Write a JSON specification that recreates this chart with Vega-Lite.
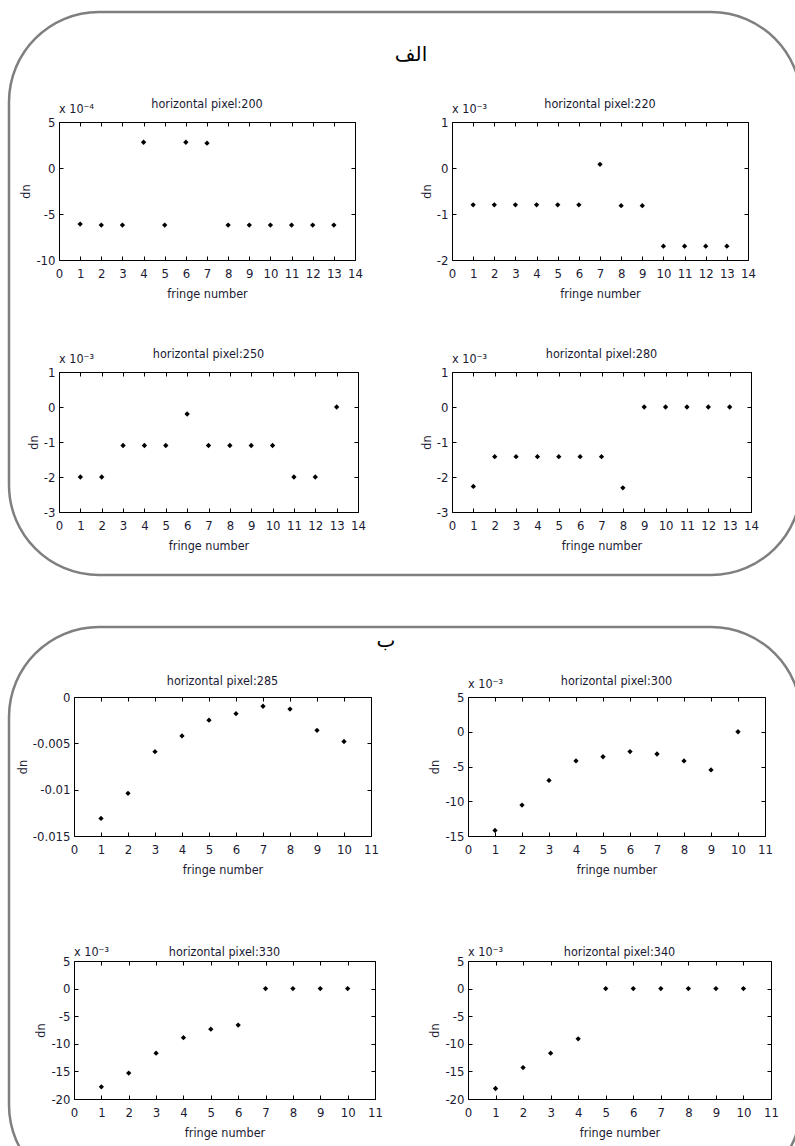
{
  "$schema": "https://vega.github.io/schema/vega-lite/v6.json",
  "padding": {"left": 7, "top": 10, "right": 0, "bottom": 0},
  "background": "white",
  "datasets": {
    "dn": [
      {"panel": 200, "fringe": 1, "dn": -0.00061}, {"panel": 200, "fringe": 2, "dn": -0.00062}, {"panel": 200, "fringe": 3, "dn": -0.00062}, {"panel": 200, "fringe": 4, "dn": 0.00028}, {"panel": 200, "fringe": 5, "dn": -0.00062}, {"panel": 200, "fringe": 6, "dn": 0.00028}, {"panel": 200, "fringe": 7, "dn": 0.00027}, {"panel": 200, "fringe": 8, "dn": -0.00062}, {"panel": 200, "fringe": 9, "dn": -0.00062}, {"panel": 200, "fringe": 10, "dn": -0.00062}, {"panel": 200, "fringe": 11, "dn": -0.00062}, {"panel": 200, "fringe": 12, "dn": -0.00062}, {"panel": 200, "fringe": 13, "dn": -0.00062},
      {"panel": 220, "fringe": 1, "dn": -0.0008}, {"panel": 220, "fringe": 2, "dn": -0.0008}, {"panel": 220, "fringe": 3, "dn": -0.0008}, {"panel": 220, "fringe": 4, "dn": -0.0008}, {"panel": 220, "fringe": 5, "dn": -0.0008}, {"panel": 220, "fringe": 6, "dn": -0.0008}, {"panel": 220, "fringe": 7, "dn": 0.00008}, {"panel": 220, "fringe": 8, "dn": -0.00082}, {"panel": 220, "fringe": 9, "dn": -0.00082}, {"panel": 220, "fringe": 10, "dn": -0.0017}, {"panel": 220, "fringe": 11, "dn": -0.0017}, {"panel": 220, "fringe": 12, "dn": -0.0017}, {"panel": 220, "fringe": 13, "dn": -0.0017},
      {"panel": 250, "fringe": 1, "dn": -0.002}, {"panel": 250, "fringe": 2, "dn": -0.002}, {"panel": 250, "fringe": 3, "dn": -0.0011}, {"panel": 250, "fringe": 4, "dn": -0.0011}, {"panel": 250, "fringe": 5, "dn": -0.0011}, {"panel": 250, "fringe": 6, "dn": -0.0002}, {"panel": 250, "fringe": 7, "dn": -0.0011}, {"panel": 250, "fringe": 8, "dn": -0.0011}, {"panel": 250, "fringe": 9, "dn": -0.0011}, {"panel": 250, "fringe": 10, "dn": -0.0011}, {"panel": 250, "fringe": 11, "dn": -0.002}, {"panel": 250, "fringe": 12, "dn": -0.002}, {"panel": 250, "fringe": 13, "dn": 0},
      {"panel": 280, "fringe": 1, "dn": -0.00227}, {"panel": 280, "fringe": 2, "dn": -0.00142}, {"panel": 280, "fringe": 3, "dn": -0.00142}, {"panel": 280, "fringe": 4, "dn": -0.00142}, {"panel": 280, "fringe": 5, "dn": -0.00142}, {"panel": 280, "fringe": 6, "dn": -0.00142}, {"panel": 280, "fringe": 7, "dn": -0.00142}, {"panel": 280, "fringe": 8, "dn": -0.00231}, {"panel": 280, "fringe": 9, "dn": 0}, {"panel": 280, "fringe": 10, "dn": 0}, {"panel": 280, "fringe": 11, "dn": 0}, {"panel": 280, "fringe": 12, "dn": 0}, {"panel": 280, "fringe": 13, "dn": 0},
      {"panel": 285, "fringe": 1, "dn": -0.0131}, {"panel": 285, "fringe": 2, "dn": -0.0104}, {"panel": 285, "fringe": 3, "dn": -0.0059}, {"panel": 285, "fringe": 4, "dn": -0.0042}, {"panel": 285, "fringe": 5, "dn": -0.0025}, {"panel": 285, "fringe": 6, "dn": -0.0018}, {"panel": 285, "fringe": 7, "dn": -0.001}, {"panel": 285, "fringe": 8, "dn": -0.0013}, {"panel": 285, "fringe": 9, "dn": -0.0036}, {"panel": 285, "fringe": 10, "dn": -0.0048},
      {"panel": 300, "fringe": 1, "dn": -0.0142}, {"panel": 300, "fringe": 2, "dn": -0.01055}, {"panel": 300, "fringe": 3, "dn": -0.007}, {"panel": 300, "fringe": 4, "dn": -0.0042}, {"panel": 300, "fringe": 5, "dn": -0.0036}, {"panel": 300, "fringe": 6, "dn": -0.00285}, {"panel": 300, "fringe": 7, "dn": -0.0032}, {"panel": 300, "fringe": 8, "dn": -0.0042}, {"panel": 300, "fringe": 9, "dn": -0.0055}, {"panel": 300, "fringe": 10, "dn": 0},
      {"panel": 330, "fringe": 1, "dn": -0.0178}, {"panel": 330, "fringe": 2, "dn": -0.0153}, {"panel": 330, "fringe": 3, "dn": -0.0117}, {"panel": 330, "fringe": 4, "dn": -0.0089}, {"panel": 330, "fringe": 5, "dn": -0.00735}, {"panel": 330, "fringe": 6, "dn": -0.0066}, {"panel": 330, "fringe": 7, "dn": 0}, {"panel": 330, "fringe": 8, "dn": 0}, {"panel": 330, "fringe": 9, "dn": 0}, {"panel": 330, "fringe": 10, "dn": 0},
      {"panel": 340, "fringe": 1, "dn": -0.0181}, {"panel": 340, "fringe": 2, "dn": -0.0143}, {"panel": 340, "fringe": 3, "dn": -0.0117}, {"panel": 340, "fringe": 4, "dn": -0.0091}, {"panel": 340, "fringe": 5, "dn": 0}, {"panel": 340, "fringe": 6, "dn": 0}, {"panel": 340, "fringe": 7, "dn": 0}, {"panel": 340, "fringe": 8, "dn": 0}, {"panel": 340, "fringe": 9, "dn": 0}, {"panel": 340, "fringe": 10, "dn": 0}
    ]
  },
  "spacing": 48,
  "vconcat": [
    {
      "columns": 3,
      "bounds": "flush",
      "align": "each",
      "spacing": {"row": 0, "column": 0},
      "concat": [
        {
          "width": 296, "height": 138,
          "data": {"name": "dn"},
          "transform": [{"filter": "datum.panel == 200"}],
          "resolve": {"axis": {"x": "independent", "y": "independent"}},
          "layer": [
            {"transform": [{"filter": "datum.fringe == 1"}],
             "mark": {"type": "rect", "filled": false, "color": "#7f7f7f", "strokeWidth": 2.5, "cornerRadius": 90},
             "encoding": {"x": {"datum": -2.365, "axis": null}, "x2": {"datum": 35.1}, "y": {"datum": 0.00169565, "axis": null}, "y2": {"datum": -0.00442391}}},
            {"transform": [{"filter": "datum.fringe == 1"}],
             "mark": {"type": "text", "text": "الف", "font": "DejaVu Sans", "fontSize": 20, "align": "center", "baseline": "middle", "color": "black"},
             "encoding": {"x": {"datum": 16.65, "axis": null}, "y": {"datum": 0.0012283, "axis": null}}},
            {"mark": {"type": "point", "shape": "diamond", "filled": true, "color": "black", "size": 28, "opacity": 1},
             "encoding": {
               "x": {"field": "fringe", "type": "quantitative", "scale": {"domain": [0, 14], "nice": false}, "axis": {"values": [0,1,2,3,4,5,6,7,8,9,10,11,12,13,14], "title": "fringe number"}},
               "y": {"field": "dn", "type": "quantitative", "scale": {"domain": [-0.001, 0.0005], "nice": false, "zero": false}, "axis": {"values": [-0.001, -0.0005, 0, 0.0005], "labelExpr": "'' + round(datum.value*10000)", "title": "dn"}}
             }},
            {"mark": {"type": "point", "opacity": 0},
             "encoding": {
               "x": {"field": "fringe", "type": "quantitative", "axis": {"orient": "top", "values": [0,1,2,3,4,5,6,7,8,9,10,11,12,13,14], "labels": false, "title": null}},
               "y": {"field": "dn", "type": "quantitative", "axis": {"orient": "right", "values": [-0.001, -0.0005, 0, 0.0005], "labels": false, "title": null}}
             }},
            {"transform": [{"filter": "datum.fringe == 1"}],
             "mark": {"type": "text", "text": "horizontal pixel:200", "align": "center", "baseline": "alphabetic", "dy": -14, "fontSize": 12.5, "color": "#1a1a33"},
             "encoding": {"x": {"datum": 7, "axis": null}, "y": {"datum": 0.0005, "axis": null}}},
            {"transform": [{"filter": "datum.fringe == 1"}],
             "mark": {"type": "text", "text": "x 10⁻⁴", "align": "left", "baseline": "alphabetic", "dy": -9, "fontSize": 12.5, "color": "#1a1a33"},
             "encoding": {"x": {"datum": 0, "axis": null}, "y": {"datum": 0.0005, "axis": null}}}
          ]
        },
        {"data": {"name": "dn"}, "transform": [{"filter": "false"}], "mark": "point", "width": 94, "height": 1, "view": {"stroke": null}},
        {
          "width": 296, "height": 138,
          "data": {"name": "dn"},
          "transform": [{"filter": "datum.panel == 220"}],
          "resolve": {"axis": {"x": "independent", "y": "independent"}},
          "layer": [
            {"mark": {"type": "point", "shape": "diamond", "filled": true, "color": "black", "size": 28, "opacity": 1},
             "encoding": {
               "x": {"field": "fringe", "type": "quantitative", "scale": {"domain": [0, 14], "nice": false}, "axis": {"values": [0,1,2,3,4,5,6,7,8,9,10,11,12,13,14], "title": "fringe number"}},
               "y": {"field": "dn", "type": "quantitative", "scale": {"domain": [-0.002, 0.001], "nice": false, "zero": false}, "axis": {"values": [-0.002, -0.001, 0, 0.001], "labelExpr": "'' + round(datum.value*1000)", "title": "dn"}}
             }},
            {"mark": {"type": "point", "opacity": 0},
             "encoding": {
               "x": {"field": "fringe", "type": "quantitative", "axis": {"orient": "top", "values": [0,1,2,3,4,5,6,7,8,9,10,11,12,13,14], "labels": false, "title": null}},
               "y": {"field": "dn", "type": "quantitative", "axis": {"orient": "right", "values": [-0.002, -0.001, 0, 0.001], "labels": false, "title": null}}
             }},
            {"transform": [{"filter": "datum.fringe == 1"}],
             "mark": {"type": "text", "text": "horizontal pixel:220", "align": "center", "baseline": "alphabetic", "dy": -14, "fontSize": 12.5, "color": "#1a1a33"},
             "encoding": {"x": {"datum": 7, "axis": null}, "y": {"datum": 0.001, "axis": null}}},
            {"transform": [{"filter": "datum.fringe == 1"}],
             "mark": {"type": "text", "text": "x 10⁻³", "align": "left", "baseline": "alphabetic", "dy": -9, "fontSize": 12.5, "color": "#1a1a33"},
             "encoding": {"x": {"datum": 0, "axis": null}, "y": {"datum": 0.001, "axis": null}}}
          ]
        },
        {"data": {"name": "dn"}, "transform": [{"filter": "false"}], "mark": "point", "width": 1, "height": 112, "view": {"stroke": null}},
        {"data": {"name": "dn"}, "transform": [{"filter": "false"}], "mark": "point", "width": 1, "height": 112, "view": {"stroke": null}},
        {"data": {"name": "dn"}, "transform": [{"filter": "false"}], "mark": "point", "width": 1, "height": 112, "view": {"stroke": null}},
        {
          "width": 299, "height": 140,
          "data": {"name": "dn"},
          "transform": [{"filter": "datum.panel == 250"}],
          "resolve": {"axis": {"x": "independent", "y": "independent"}},
          "layer": [
            {"mark": {"type": "point", "shape": "diamond", "filled": true, "color": "black", "size": 28, "opacity": 1},
             "encoding": {
               "x": {"field": "fringe", "type": "quantitative", "scale": {"domain": [0, 14], "nice": false}, "axis": {"values": [0,1,2,3,4,5,6,7,8,9,10,11,12,13,14], "title": "fringe number"}},
               "y": {"field": "dn", "type": "quantitative", "scale": {"domain": [-0.003, 0.001], "nice": false, "zero": false}, "axis": {"values": [-0.003, -0.002, -0.001, 0, 0.001], "labelExpr": "'' + round(datum.value*1000)", "title": "dn"}}
             }},
            {"mark": {"type": "point", "opacity": 0},
             "encoding": {
               "x": {"field": "fringe", "type": "quantitative", "axis": {"orient": "top", "values": [0,1,2,3,4,5,6,7,8,9,10,11,12,13,14], "labels": false, "title": null}},
               "y": {"field": "dn", "type": "quantitative", "axis": {"orient": "right", "values": [-0.003, -0.002, -0.001, 0, 0.001], "labels": false, "title": null}}
             }},
            {"transform": [{"filter": "datum.fringe == 1"}],
             "mark": {"type": "text", "text": "horizontal pixel:250", "align": "center", "baseline": "alphabetic", "dy": -14, "fontSize": 12.5, "color": "#1a1a33"},
             "encoding": {"x": {"datum": 7, "axis": null}, "y": {"datum": 0.001, "axis": null}}},
            {"transform": [{"filter": "datum.fringe == 1"}],
             "mark": {"type": "text", "text": "x 10⁻³", "align": "left", "baseline": "alphabetic", "dy": -9, "fontSize": 12.5, "color": "#1a1a33"},
             "encoding": {"x": {"datum": 0, "axis": null}, "y": {"datum": 0.001, "axis": null}}}
          ]
        },
        {"data": {"name": "dn"}, "transform": [{"filter": "false"}], "mark": "point", "width": 94, "height": 1, "view": {"stroke": null}},
        {
          "width": 299, "height": 140,
          "data": {"name": "dn"},
          "transform": [{"filter": "datum.panel == 280"}],
          "resolve": {"axis": {"x": "independent", "y": "independent"}},
          "layer": [
            {"mark": {"type": "point", "shape": "diamond", "filled": true, "color": "black", "size": 28, "opacity": 1},
             "encoding": {
               "x": {"field": "fringe", "type": "quantitative", "scale": {"domain": [0, 14], "nice": false}, "axis": {"values": [0,1,2,3,4,5,6,7,8,9,10,11,12,13,14], "title": "fringe number"}},
               "y": {"field": "dn", "type": "quantitative", "scale": {"domain": [-0.003, 0.001], "nice": false, "zero": false}, "axis": {"values": [-0.003, -0.002, -0.001, 0, 0.001], "labelExpr": "'' + round(datum.value*1000)", "title": "dn"}}
             }},
            {"mark": {"type": "point", "opacity": 0},
             "encoding": {
               "x": {"field": "fringe", "type": "quantitative", "axis": {"orient": "top", "values": [0,1,2,3,4,5,6,7,8,9,10,11,12,13,14], "labels": false, "title": null}},
               "y": {"field": "dn", "type": "quantitative", "axis": {"orient": "right", "values": [-0.003, -0.002, -0.001, 0, 0.001], "labels": false, "title": null}}
             }},
            {"transform": [{"filter": "datum.fringe == 1"}],
             "mark": {"type": "text", "text": "horizontal pixel:280", "align": "center", "baseline": "alphabetic", "dy": -14, "fontSize": 12.5, "color": "#1a1a33"},
             "encoding": {"x": {"datum": 7, "axis": null}, "y": {"datum": 0.001, "axis": null}}},
            {"transform": [{"filter": "datum.fringe == 1"}],
             "mark": {"type": "text", "text": "x 10⁻³", "align": "left", "baseline": "alphabetic", "dy": -9, "fontSize": 12.5, "color": "#1a1a33"},
             "encoding": {"x": {"datum": 0, "axis": null}, "y": {"datum": 0.001, "axis": null}}}
          ]
        }
      ]
    },
    {
      "columns": 4,
      "bounds": "flush",
      "align": "each",
      "spacing": {"row": 0, "column": 0},
      "concat": [
        {"data": {"name": "dn"}, "transform": [{"filter": "false"}], "mark": "point", "width": 15, "height": 1, "view": {"stroke": null}},
        {
          "width": 297, "height": 139,
          "data": {"name": "dn"},
          "transform": [{"filter": "datum.panel == 285"}],
          "resolve": {"axis": {"x": "independent", "y": "independent"}},
          "layer": [
            {"transform": [{"filter": "datum.fringe == 1"}],
             "mark": {"type": "rect", "filled": false, "color": "#7f7f7f", "strokeWidth": 2.5, "cornerRadius": 90},
             "encoding": {"x": {"datum": -2.407, "axis": null}, "x2": {"datum": 26.93}, "y": {"datum": 0.007554, "axis": null}, "y2": {"datum": -0.05374}}},
            {"transform": [{"filter": "datum.fringe == 1"}],
             "mark": {"type": "text", "text": "ب", "font": "DejaVu Sans", "fontSize": 20, "align": "center", "baseline": "middle", "color": "black"},
             "encoding": {"x": {"datum": 11.556, "axis": null}, "y": {"datum": 0.006043, "axis": null}}},
            {"mark": {"type": "point", "shape": "diamond", "filled": true, "color": "black", "size": 28, "opacity": 1},
             "encoding": {
               "x": {"field": "fringe", "type": "quantitative", "scale": {"domain": [0, 11], "nice": false}, "axis": {"values": [0,1,2,3,4,5,6,7,8,9,10,11], "title": "fringe number"}},
               "y": {"field": "dn", "type": "quantitative", "scale": {"domain": [-0.015, 0], "nice": false, "zero": false}, "axis": {"values": [-0.015, -0.01, -0.005, 0], "labelExpr": "'' + datum.value", "title": "dn"}}
             }},
            {"mark": {"type": "point", "opacity": 0},
             "encoding": {
               "x": {"field": "fringe", "type": "quantitative", "axis": {"orient": "top", "values": [0,1,2,3,4,5,6,7,8,9,10,11], "labels": false, "title": null}},
               "y": {"field": "dn", "type": "quantitative", "axis": {"orient": "right", "values": [-0.015, -0.01, -0.005, 0], "labels": false, "title": null}}
             }},
            {"transform": [{"filter": "datum.fringe == 1"}],
             "mark": {"type": "text", "text": "horizontal pixel:285", "align": "center", "baseline": "alphabetic", "dy": -12, "fontSize": 12.5, "color": "#1a1a33"},
             "encoding": {"x": {"datum": 5.5, "axis": null}, "y": {"datum": 0, "axis": null}}}
          ]
        },
        {"data": {"name": "dn"}, "transform": [{"filter": "false"}], "mark": "point", "width": 93, "height": 1, "view": {"stroke": null}},
        {
          "width": 297, "height": 139,
          "data": {"name": "dn"},
          "transform": [{"filter": "datum.panel == 300"}],
          "resolve": {"axis": {"x": "independent", "y": "independent"}},
          "layer": [
            {"mark": {"type": "point", "shape": "diamond", "filled": true, "color": "black", "size": 28, "opacity": 1},
             "encoding": {
               "x": {"field": "fringe", "type": "quantitative", "scale": {"domain": [0, 11], "nice": false}, "axis": {"values": [0,1,2,3,4,5,6,7,8,9,10,11], "title": "fringe number"}},
               "y": {"field": "dn", "type": "quantitative", "scale": {"domain": [-0.015, 0.005], "nice": false, "zero": false}, "axis": {"values": [-0.015, -0.01, -0.005, 0, 0.005], "labelExpr": "'' + round(datum.value*1000)", "title": "dn"}}
             }},
            {"mark": {"type": "point", "opacity": 0},
             "encoding": {
               "x": {"field": "fringe", "type": "quantitative", "axis": {"orient": "top", "values": [0,1,2,3,4,5,6,7,8,9,10,11], "labels": false, "title": null}},
               "y": {"field": "dn", "type": "quantitative", "axis": {"orient": "right", "values": [-0.015, -0.01, -0.005, 0, 0.005], "labels": false, "title": null}}
             }},
            {"transform": [{"filter": "datum.fringe == 1"}],
             "mark": {"type": "text", "text": "horizontal pixel:300", "align": "center", "baseline": "alphabetic", "dy": -12, "fontSize": 12.5, "color": "#1a1a33"},
             "encoding": {"x": {"datum": 5.5, "axis": null}, "y": {"datum": 0.005, "axis": null}}},
            {"transform": [{"filter": "datum.fringe == 1"}],
             "mark": {"type": "text", "text": "x 10⁻³", "align": "left", "baseline": "alphabetic", "dy": -9, "fontSize": 12.5, "color": "#1a1a33"},
             "encoding": {"x": {"datum": 0, "axis": null}, "y": {"datum": 0.005, "axis": null}}}
          ]
        },
        {"data": {"name": "dn"}, "transform": [{"filter": "false"}], "mark": "point", "width": 1, "height": 125, "view": {"stroke": null}},
        {"data": {"name": "dn"}, "transform": [{"filter": "false"}], "mark": "point", "width": 1, "height": 125, "view": {"stroke": null}},
        {"data": {"name": "dn"}, "transform": [{"filter": "false"}], "mark": "point", "width": 1, "height": 125, "view": {"stroke": null}},
        {"data": {"name": "dn"}, "transform": [{"filter": "false"}], "mark": "point", "width": 1, "height": 125, "view": {"stroke": null}},
        {"data": {"name": "dn"}, "transform": [{"filter": "false"}], "mark": "point", "width": 15, "height": 1, "view": {"stroke": null}},
        {
          "width": 301, "height": 138,
          "data": {"name": "dn"},
          "transform": [{"filter": "datum.panel == 330"}],
          "resolve": {"axis": {"x": "independent", "y": "independent"}},
          "layer": [
            {"mark": {"type": "point", "shape": "diamond", "filled": true, "color": "black", "size": 28, "opacity": 1},
             "encoding": {
               "x": {"field": "fringe", "type": "quantitative", "scale": {"domain": [0, 11], "nice": false}, "axis": {"values": [0,1,2,3,4,5,6,7,8,9,10,11], "title": "fringe number"}},
               "y": {"field": "dn", "type": "quantitative", "scale": {"domain": [-0.02, 0.005], "nice": false, "zero": false}, "axis": {"values": [-0.02, -0.015, -0.01, -0.005, 0, 0.005], "labelExpr": "'' + round(datum.value*1000)", "title": "dn"}}
             }},
            {"mark": {"type": "point", "opacity": 0},
             "encoding": {
               "x": {"field": "fringe", "type": "quantitative", "axis": {"orient": "top", "values": [0,1,2,3,4,5,6,7,8,9,10,11], "labels": false, "title": null}},
               "y": {"field": "dn", "type": "quantitative", "axis": {"orient": "right", "values": [-0.02, -0.015, -0.01, -0.005, 0, 0.005], "labels": false, "title": null}}
             }},
            {"transform": [{"filter": "datum.fringe == 1"}],
             "mark": {"type": "text", "text": "horizontal pixel:330", "align": "center", "baseline": "alphabetic", "dy": -5, "fontSize": 12.5, "color": "#1a1a33"},
             "encoding": {"x": {"datum": 5.5, "axis": null}, "y": {"datum": 0.005, "axis": null}}},
            {"transform": [{"filter": "datum.fringe == 1"}],
             "mark": {"type": "text", "text": "x 10⁻³", "align": "left", "baseline": "alphabetic", "dy": -5, "fontSize": 12.5, "color": "#1a1a33"},
             "encoding": {"x": {"datum": 0, "axis": null}, "y": {"datum": 0.005, "axis": null}}}
          ]
        },
        {"data": {"name": "dn"}, "transform": [{"filter": "false"}], "mark": "point", "width": 93, "height": 1, "view": {"stroke": null}},
        {
          "width": 303, "height": 138,
          "data": {"name": "dn"},
          "transform": [{"filter": "datum.panel == 340"}],
          "resolve": {"axis": {"x": "independent", "y": "independent"}},
          "layer": [
            {"mark": {"type": "point", "shape": "diamond", "filled": true, "color": "black", "size": 28, "opacity": 1},
             "encoding": {
               "x": {"field": "fringe", "type": "quantitative", "scale": {"domain": [0, 11], "nice": false}, "axis": {"values": [0,1,2,3,4,5,6,7,8,9,10,11], "title": "fringe number"}},
               "y": {"field": "dn", "type": "quantitative", "scale": {"domain": [-0.02, 0.005], "nice": false, "zero": false}, "axis": {"values": [-0.02, -0.015, -0.01, -0.005, 0, 0.005], "labelExpr": "'' + round(datum.value*1000)", "title": "dn"}}
             }},
            {"mark": {"type": "point", "opacity": 0},
             "encoding": {
               "x": {"field": "fringe", "type": "quantitative", "axis": {"orient": "top", "values": [0,1,2,3,4,5,6,7,8,9,10,11], "labels": false, "title": null}},
               "y": {"field": "dn", "type": "quantitative", "axis": {"orient": "right", "values": [-0.02, -0.015, -0.01, -0.005, 0, 0.005], "labels": false, "title": null}}
             }},
            {"transform": [{"filter": "datum.fringe == 1"}],
             "mark": {"type": "text", "text": "horizontal pixel:340", "align": "center", "baseline": "alphabetic", "dy": -5, "fontSize": 12.5, "color": "#1a1a33"},
             "encoding": {"x": {"datum": 5.5, "axis": null}, "y": {"datum": 0.005, "axis": null}}},
            {"transform": [{"filter": "datum.fringe == 1"}],
             "mark": {"type": "text", "text": "x 10⁻³", "align": "left", "baseline": "alphabetic", "dy": -5, "fontSize": 12.5, "color": "#1a1a33"},
             "encoding": {"x": {"datum": 0, "axis": null}, "y": {"datum": 0.005, "axis": null}}}
          ]
        }
      ]
    }
  ],
  "config": {
    "font": "DejaVu Sans Condensed, Liberation Sans, Arial, sans-serif",
    "view": {"stroke": "black", "strokeWidth": 1},
    "axis": {"domain": false, "grid": false, "labelFlush": false, "labelOverlap": false, "tickSize": -4, "tickColor": "black", "labelColor": "#1a1a33", "labelFontSize": 13, "titleFontSize": 12.5, "titleFontWeight": "normal", "titleColor": "#1a1a33", "labelFont": "DejaVu Sans Condensed, Liberation Sans, Arial, sans-serif", "titleFont": "DejaVu Sans Condensed, Liberation Sans, Arial, sans-serif"},
    "axisX": {"titlePadding": 7, "labelPadding": 11},
    "axisY": {"titlePadding": 3, "labelPadding": 8},
    "text": {"font": "DejaVu Sans Condensed, Liberation Sans, Arial, sans-serif"}
  }
}
